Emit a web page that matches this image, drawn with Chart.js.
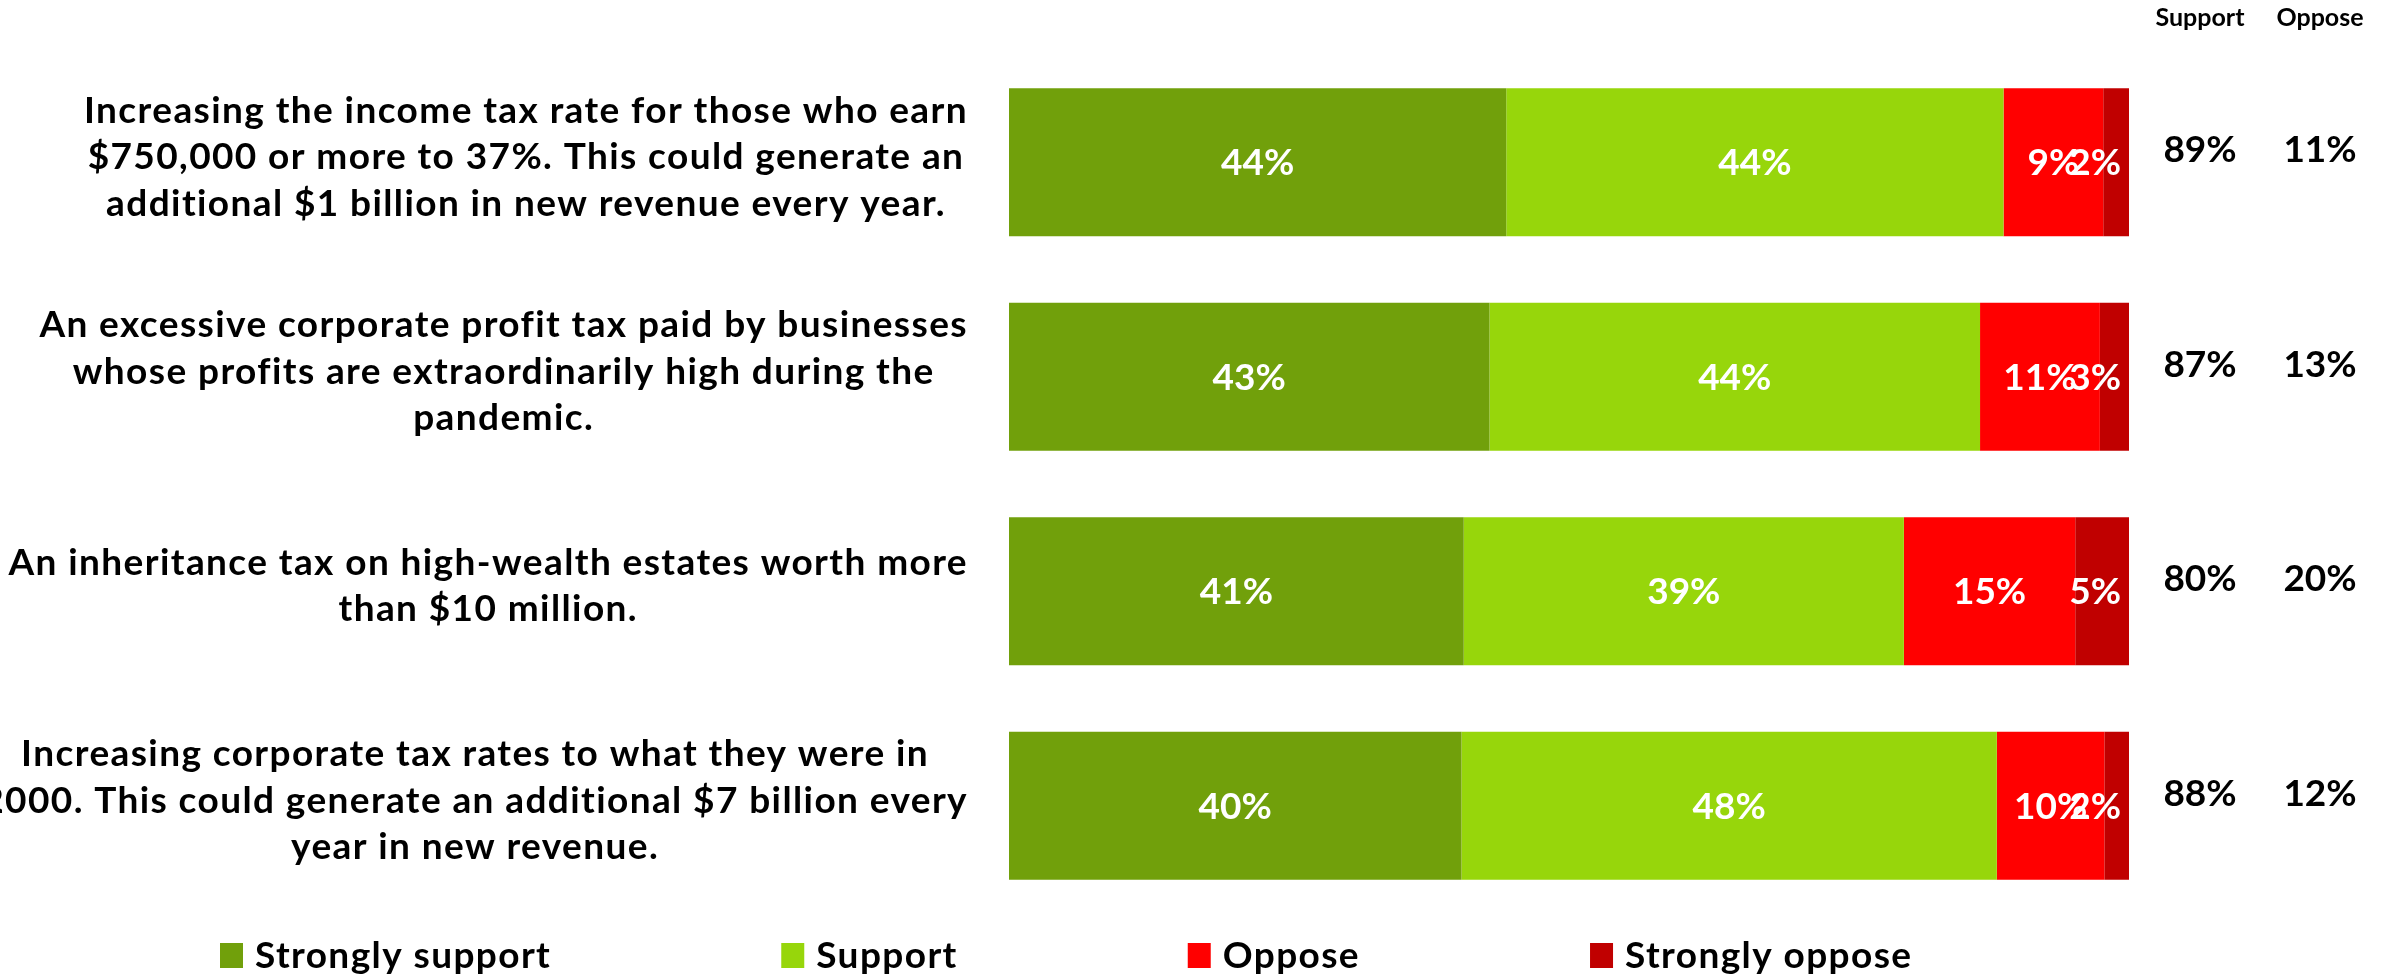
<!DOCTYPE html>
<html>
<head>
<meta charset="utf-8">
<script src="https://cdn.jsdelivr.net/npm/chart.js@4"></script>
<style>
  body{margin:0;background:#fff;}
  #wrap{width:2382px;height:977px;position:relative;}
</style>
</head>
<body>
<div id="wrap"><canvas id="myChart"></canvas></div>
<script>
const ctx = document.getElementById('myChart').getContext('2d');

const categories = [
  ['Increasing the income tax rate for those who earn', '$750,000 or more to 37%. This could generate an', 'additional $1 billion in new revenue every year.'],
  ['An excessive corporate profit tax paid by businesses', 'whose profits are extraordinarily high during the', 'pandemic.'],
  ['An inheritance tax on high-wealth estates worth more', 'than $10 million.'],
  ['Increasing corporate tax rates to what they were in', '2000. This could generate an additional $7 billion every', 'year in new revenue.']
]
const seriesNames = ['Strongly support', 'Support', 'Oppose', 'Strongly oppose']
const strongSupport = [44.4, 42.9, 40.6, 40.4]
const support = [44.4, 43.8, 39.3, 47.8]
const oppose = [8.9, 10.7, 15.3, 9.6]
const strongOppose = [2.3, 2.6, 4.8, 2.2]
const supportTotal = [89, 87, 80, 88]
const opposeTotal = [11, 13, 20, 12]
const totalHeaders = ['Support', 'Oppose']

const colors = ['#71a00b', '#97d60b', '#ff0000', '#c00000']
const FONT = 'Lato, "Noto Sans", sans-serif'

// labels inside the bars + left text + totals column + legend
const extras = {
  id: 'extras',
  afterDatasetsDraw(chart) {
    const c = chart.ctx
    const area = chart.chartArea
    c.save()
    c.font = `bold 37px ${FONT}`
    c.fillStyle = '#fff'
    c.textBaseline = 'middle'
    c.textAlign = 'center'
    chart.data.datasets.forEach((ds, di) => {
      chart.getDatasetMeta(di).data.forEach((bar, i) => {
        const txt = Math.round(ds.data[i]) + '%'
        const w = c.measureText(txt).width
        let x = (bar.x + bar.base) / 2
        if (x + w / 2 > area.right - 8) x = area.right - 8 - w / 2
        c.fillText(txt, x, bar.y + 1)
      })
    })
    c.restore()
  },
  afterDraw(chart) {
    const c = chart.ctx
    const yScale = chart.scales.y
    c.save()
    c.fillStyle = '#000'
    c.textBaseline = 'middle'

    // left question text, centred lines, right edge at 968
    c.font = `bold 37px ${FONT}`
    c.letterSpacing = '1.4px'
    c.textAlign = 'center'
    const lineH = 46.5
    categories.forEach((lines, i) => {
      const widest = Math.max(...lines.map(l => c.measureText(l).width))
      const cx = 968 - widest / 2
      const cy = yScale.getPixelForValue(i) - 5
      lines.forEach((l, k) => {
        c.fillText(l, cx, cy + (k - (lines.length - 1) / 2) * lineH)
      })
    })

    // legend
    c.textAlign = 'left'
    let x = 220
    seriesNames.forEach((name, i) => {
      c.fillStyle = colors[i]
      c.fillRect(x, 943, 23, 25)
      c.fillStyle = '#000'
      c.fillText(name, x + 35, 956)
      x += 35 + c.measureText(name).width + 230
    })
    c.letterSpacing = '0px'

    // totals column
    c.textAlign = 'center'
    c.font = `bold 25px ${FONT}`
    c.fillText(totalHeaders[0], 2200, 18)
    c.fillText(totalHeaders[1], 2320, 18)
    c.font = `bold 37px ${FONT}`
    for (let i = 0; i < supportTotal.length; i++) {
      const y = yScale.getPixelForValue(i) - 12
      c.fillText(supportTotal[i] + '%', 2200, y)
      c.fillText(opposeTotal[i] + '%', 2320, y)
    }
    c.restore()
  }
}

let myChart = new Chart(ctx, {
  type: 'bar',
  data: {
    labels: categories,
    datasets: [
      { label: seriesNames[0], data: strongSupport, backgroundColor: colors[0] },
      { label: seriesNames[1], data: support, backgroundColor: colors[1] },
      { label: seriesNames[2], data: oppose, backgroundColor: colors[2] },
      { label: seriesNames[3], data: strongOppose, backgroundColor: colors[3] }
    ]
  },
  options: {
    indexAxis: 'y',
    responsive: true,
    maintainAspectRatio: false,
    animation: false,
    barPercentage: 0.69,
    categoryPercentage: 1,
    layout: { padding: { left: 1009, right: 253, top: 55, bottom: 64 } },
    scales: {
      x: { stacked: true, min: 0, max: 100, display: false },
      y: { stacked: true, display: false }
    },
    plugins: {
      legend: { display: false },
      tooltip: { enabled: false }
    }
  },
  plugins: [extras]
});
</script>
</body>
</html>
